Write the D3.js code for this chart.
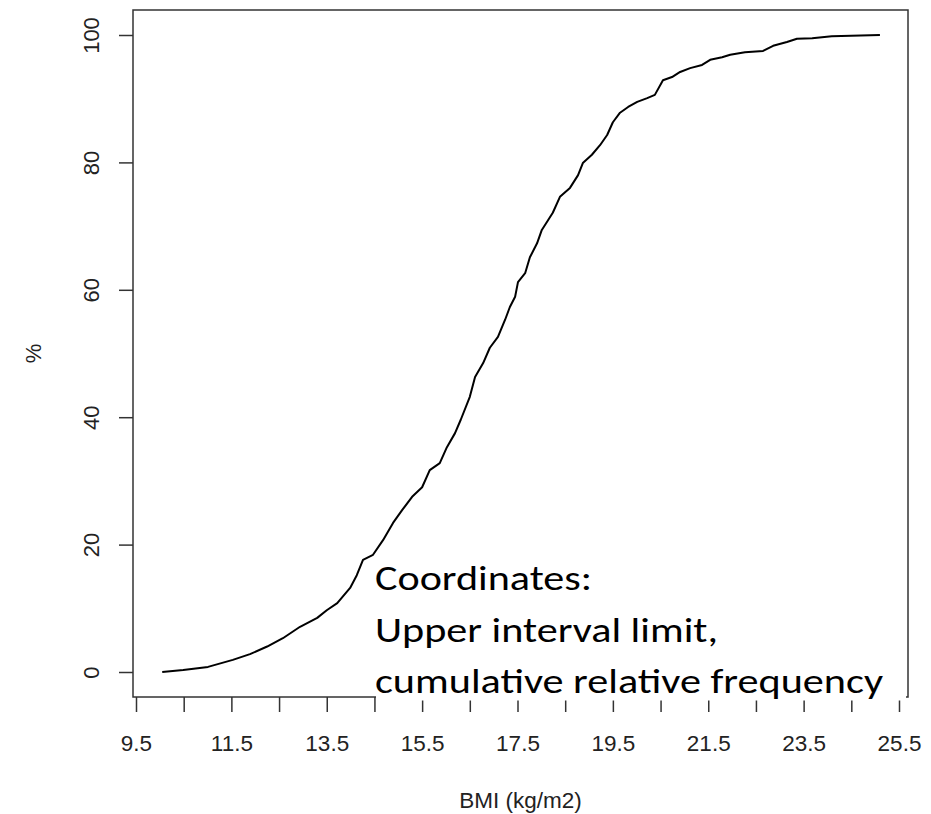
<!DOCTYPE html>
<html>
<head>
<meta charset="utf-8">
<script src="https://cdn.jsdelivr.net/npm/d3@7"></script>
<style>
  html, body { margin: 0; padding: 0; background: #ffffff; }
  svg { display: block; }
  .axis-text { font-family: "Liberation Sans", Arial, sans-serif; fill: #222; }
  .note { font-family: Carlito, Calibri, Lato, "Open Sans", sans-serif; fill: #000; }
</style>
</head>
<body>
<svg id="chart" width="931" height="814"></svg>
<script>
// Upper interval limit of BMI (kg/m2)
const bmiUpper = [
  10.05, 10.49, 11.01, 11.53, 11.89, 12.25, 12.58, 12.94, 13.30, 13.50,
  13.72, 13.99, 14.13, 14.26, 14.47, 14.68, 14.89, 15.08, 15.29, 15.50,
  15.66, 15.87, 16.02, 16.19, 16.31, 16.50, 16.61, 16.78, 16.92, 17.09,
  17.24, 17.34, 17.45, 17.51, 17.66, 17.76, 17.91, 18.01, 18.24, 18.39,
  18.60, 18.77, 18.87, 19.06, 19.23, 19.38, 19.50, 19.65, 19.82, 20.01,
  20.22, 20.38, 20.55, 20.74, 20.91, 21.12, 21.37, 21.54, 21.79, 21.96,
  22.27, 22.65, 22.86, 23.15, 23.36, 23.68, 24.09, 25.10
];
// Cumulative relative frequency (%)
const cumPercent = [
  0.0, 0.3, 0.8, 1.9, 2.8, 4.0, 5.3, 7.1, 8.5, 9.7,
  10.8, 13.2, 15.2, 17.6, 18.4, 20.7, 23.4, 25.4, 27.5, 29.0,
  31.7, 32.8, 35.3, 37.5, 39.6, 43.2, 46.3, 48.5, 50.9, 52.6,
  55.3, 57.3, 58.9, 61.2, 62.6, 65.1, 67.3, 69.4, 72.1, 74.6,
  76.0, 78.0, 79.9, 81.2, 82.7, 84.3, 86.3, 87.8, 88.7, 89.5,
  90.1, 90.6, 92.9, 93.4, 94.2, 94.8, 95.3, 96.1, 96.5, 96.9,
  97.3, 97.5, 98.3, 98.9, 99.4, 99.5, 99.8, 100.0
];
const xTicks = [9.5, 10.5, 11.5, 12.5, 13.5, 14.5, 15.5, 16.5, 17.5, 18.5,
                19.5, 20.5, 21.5, 22.5, 23.5, 24.5, 25.5];
const xTickLabels = ["9.5", "11.5", "13.5", "15.5", "17.5", "19.5", "21.5", "23.5", "25.5"];
const yTicks = [0, 20, 40, 60, 80, 100];
const xTitle = "BMI (kg/m2)";
const yTitle = "%";
const noteLines = ["Coordinates:", "Upper interval limit,", "cumulative relative frequency"];

const svg = d3.select("#chart");

// plotting region (box) and scales
const box = { left: 133, right: 908, top: 10, bottom: 697 };
const x = d3.scaleLinear().domain([9.5, 25.5]).range([136, 899]);
const y = d3.scaleLinear().domain([0, 100]).range([672, 35]);

const pts = bmiUpper.map((b, i) => [b, cumPercent[i]]);

// cumulative curve
svg.append("path")
  .datum(pts)
  .attr("fill", "none")
  .attr("stroke", "#000")
  .attr("stroke-width", 2)
  .attr("stroke-linejoin", "round")
  .attr("d", d3.line().x(d => x(d[0])).y(d => y(d[1])).curve(d3.curveLinear));

// plot frame
svg.append("rect")
  .attr("x", box.left).attr("y", box.top)
  .attr("width", box.right - box.left).attr("height", box.bottom - box.top)
  .attr("fill", "none").attr("stroke", "#333").attr("stroke-width", 1.5);

// x axis (below frame)
const xAxis = d3.axisBottom(x)
  .tickValues(xTicks)
  .tickSize(15)
  .tickSizeOuter(0)
  .tickFormat(d => xTickLabels.includes(String(d)) ? String(d) : "");
const gx = svg.append("g").attr("transform", `translate(0,${box.bottom})`).call(xAxis);
gx.select(".domain").remove();
gx.selectAll(".tick line").attr("stroke", "#333").attr("stroke-width", 1.5);
gx.selectAll(".tick text")
  .attr("class", "axis-text")
  .attr("y", 0).attr("dy", 0)
  .attr("transform", "translate(0,54)")
  .style("font-size", "22.5px");

// y axis (left of frame), labels rotated
const yAxis = d3.axisLeft(y).tickValues(yTicks).tickSize(14).tickSizeOuter(0);
const gy = svg.append("g").attr("transform", `translate(${box.left},0)`).call(yAxis);
gy.select(".domain").remove();
gy.selectAll(".tick line").attr("stroke", "#333").attr("stroke-width", 1.5);
gy.selectAll(".tick text")
  .attr("class", "axis-text")
  .attr("x", 0).attr("dy", 0)
  .attr("text-anchor", "middle")
  .attr("dominant-baseline", "central")
  .attr("transform", "translate(-42,0) rotate(-90)")
  .style("font-size", "22px");

// axis titles
svg.append("text")
  .attr("class", "axis-text")
  .attr("x", (box.left + box.right) / 2).attr("y", 808)
  .attr("text-anchor", "middle")
  .style("font-size", "22.5px")
  .text(xTitle);

svg.append("text")
  .attr("class", "axis-text")
  .attr("transform", `translate(33,${(box.top + box.bottom) / 2}) rotate(-90)`)
  .attr("text-anchor", "middle")
  .attr("dominant-baseline", "central")
  .style("font-size", "22px")
  .text(yTitle);

// annotation panel
svg.append("rect")
  .attr("x", 376).attr("y", 552)
  .attr("width", 530).attr("height", 148.5)
  .attr("fill", "#fff");

const noteWidths = [217, 343, 508];
const noteBase = [590, 641.5, 693];
noteLines.forEach((t, i) => {
  svg.append("text")
    .attr("class", "note")
    .attr("x", 375).attr("y", noteBase[i])
    .style("font-size", "35px")
    .attr("textLength", noteWidths[i])
    .attr("lengthAdjust", "spacingAndGlyphs")
    .text(t);
});
</script>
</body>
</html>
